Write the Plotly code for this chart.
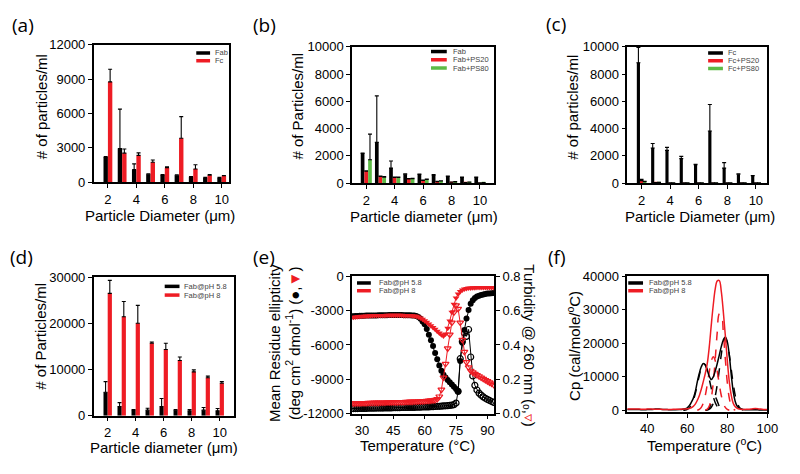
import plotly.graph_objects as go

W, H = 800, 474

# ---------------- data ----------------
diam = [2, 3, 4, 5, 6, 7, 8, 9, 10]
diam_ticks = [2, 4, 6, 8, 10]

# (a) Fab vs Fc
a_fab = [2200, 2950, 1100, 700, 650, 620, 480, 400, 400]
a_fab_err = [50, 3430, 510, 30, 30, 30, 30, 30, 30]
a_fc = [8760, 2540, 2345, 1750, 1270, 3840, 1160, 620, 565]
a_fc_err = [1100, 370, 225, 200, 85, 1890, 370, 60, 30]

# (b) Fab with surfactants
b_fab = [2190, 2990, 1110, 660, 635, 610, 495, 425, 425]
b_fab_err = [30, 3410, 515, 40, 30, 30, 30, 30, 30]
b_ps20 = [890, 495, 425, 305, 210, 120, 70, 45, 25]
b_ps20_err = [30, 40, 30, 30, 30, 20, 10, 10, 10]
b_ps80 = [1720, 445, 425, 330, 280, 165, 100, 70, 45]
b_ps80_err = [1880, 40, 30, 30, 30, 20, 20, 10, 10]

# (c) Fc with surfactants
c_fc = [8820, 2580, 2410, 1800, 1350, 3830, 1110, 660, 545]
c_fc_err = [1130, 330, 215, 165, 45, 1940, 400, 25, 25]
c_ps20 = [190, 40, 30, 25, 20, 20, 20, 20, 20]
c_ps20_err = [90, 10, 10, 10, 10, 10, 10, 10, 10]
c_ps80 = [120, 50, 30, 25, 25, 20, 20, 20, 20]
c_ps80_err = [20, 10, 10, 10, 10, 10, 10, 10, 10]

# (d) Fab at two pH
d_ph58 = [5060, 1970, 1265, 1195, 1970, 1195, 1055, 1195, 1055]
d_ph58_err = [2320, 840, 70, 420, 1760, 140, 280, 560, 490]
d_ph8 = [26490, 21430, 20030, 15670, 14340, 11950, 9490, 8220, 7030]
d_ph8_err = [2810, 3310, 3860, 280, 1330, 770, 420, 350, 350]

# (e) CD ellipticity + turbidity vs temperature (25..93 C)
temp_cd = list(range(25, 94))
ell_ph58 = [-3500, -3490, -3480, -3470, -3460, -3450, -3450, -3440, -3440, -3430,
            -3430, -3420, -3420, -3410, -3410, -3400, -3400, -3400, -3390, -3390,
            -3390, -3380, -3380, -3390, -3390, -3400, -3400, -3410, -3410, -3420,
            -3440,
            -3480, -3560, -3720, -3950, -4200, -4600, -5100, -5600, -6100, -6700,
            -7250, -7800, -8250, -8600, -8850, -9050, -9250, -9450, -9650, -9850,
            -10050, -7400, -5800, -4700, -3700, -2950, -2400, -2100, -1900, -1780,
            -1700, -1640, -1590, -1550, -1520, -1500, -1480, -1470]
ell_ph8 = [-3600, -3580, -3560, -3540, -3520, -3500, -3490, -3480, -3470, -3460,
           -3450, -3440, -3440, -3430, -3430, -3420, -3420, -3410, -3410, -3400,
           -3400, -3400, -3400, -3410, -3410, -3420, -3420, -3430, -3440, -3450,
           -3470,
           -3500, -3560, -3640, -3750, -3880, -4020, -4170, -4320, -4480, -4640,
           -4800, -4960, -5120, -5220, -5050, -4550, -3900, -3150, -2450, -1900,
           -1550, -1330, -1200, -1120, -1070, -1040, -1020, -1010, -1000, -995,
           -990, -990, -985, -985, -980, -980, -980, -980]
turb_ph58 = [0.030, 0.030, 0.030, 0.030, 0.031, 0.031, 0.031, 0.031, 0.032, 0.032,
             0.032, 0.032, 0.033, 0.033, 0.033, 0.033, 0.034, 0.034, 0.034, 0.034,
             0.035, 0.035, 0.035, 0.035, 0.036, 0.036, 0.036, 0.036, 0.037, 0.037,
             0.037,
             0.038, 0.038, 0.038, 0.039, 0.039, 0.040, 0.040, 0.041, 0.041, 0.042,
             0.043, 0.043, 0.044, 0.045, 0.046, 0.047, 0.048, 0.050, 0.053, 0.062,
             0.13, 0.32, 0.42, 0.47, 0.45, 0.49, 0.33, 0.22, 0.165, 0.138,
             0.12, 0.108, 0.098, 0.09, 0.083, 0.077, 0.071, 0.066]
turb_ph8 = [0.060, 0.060, 0.061, 0.061, 0.061, 0.062, 0.062, 0.062, 0.063, 0.063,
            0.063, 0.064, 0.064, 0.064, 0.065, 0.065, 0.065, 0.066, 0.066, 0.066,
            0.067, 0.067, 0.067, 0.068, 0.068, 0.068, 0.069, 0.069, 0.070, 0.070,
            0.071,
            0.071, 0.072, 0.072, 0.073, 0.074, 0.075, 0.076, 0.077, 0.078, 0.080,
            0.085, 0.10, 0.14, 0.21, 0.29, 0.38, 0.46, 0.53, 0.59, 0.63,
            0.61, 0.53, 0.43, 0.36, 0.30, 0.27, 0.25, 0.24, 0.232, 0.225,
            0.218, 0.21, 0.203, 0.196, 0.189, 0.182, 0.175, 0.168]

# (f) DSC thermograms
dsc58_t = [30, 32, 34, 36, 38, 40, 42, 44, 45, 46, 48, 50, 52, 54, 56, 57, 58,
           59, 60, 61, 62, 63, 64, 65, 66, 67, 68, 69, 70, 71, 72, 73, 74, 75,
           76, 77, 78, 79, 80, 81, 82, 83, 84, 85, 86, 87, 88, 90, 92, 94, 96,
           98, 100]
dsc58_cp = [300, 300, 250, 250, 200, 250, 300, 400, 450, 400, 300, 250, 200, 200,
            250, 300, 400, 500, 800, 1400, 2400, 3600, 5600, 8500, 11000, 13000,
            14000, 13500, 12000, 10200, 9200, 10000, 11800, 14000, 16500, 19000,
            21000, 21900, 20500, 16500, 10500, 5500, 2600, 1200, 600, 400, 300,
            200, 200, 200, 150, 100, 100]
dsc8_t = [30, 32, 34, 36, 38, 40, 42, 44, 46, 48, 50, 52, 54, 56, 58, 60, 61, 62,
          63, 64, 65, 66, 67, 68, 69, 70, 71, 72, 73, 74, 75, 76, 77, 78, 79,
          80, 81, 82, 83, 84, 85, 86, 88, 90, 92, 94, 96, 98, 100]
dsc8_cp = [400, 450, 400, 400, 350, 400, 400, 350, 350, 300, 300, 300, 350, 350,
           400, 500, 600, 800, 1200, 1900, 3000, 4400, 6300, 8600, 11000, 14000,
           19000, 25500, 31500, 36300, 38600, 38700, 35500, 29500, 22500, 15000,
           8600, 4500, 2100, 1100, 600, 400, 300, 350, 450, 600, 450, 300, 250]
# deconvoluted components (dashed)
fit58_p1_t = [58, 59, 60, 61, 62, 63, 64, 65, 66, 67, 68, 69, 70, 71, 72, 73, 74,
              75, 76, 77, 78]
fit58_p1 = [30, 100, 300, 730, 1550, 2940, 5000, 7650, 10400, 12750, 13900, 13600,
            11900, 9300, 6550, 4100, 2300, 1160, 520, 210, 80]
fit58_p2_t = [69, 70, 71, 72, 73, 74, 75, 76, 77, 78, 79]
fit58_p2 = [30, 190, 790, 2100, 3590, 3920, 2750, 1230, 356, 66, 10]
fit58_p3_t = [70, 71, 72, 73, 74, 75, 76, 77, 78, 79, 80, 81, 82, 83, 84, 85, 86,
              87, 88]
fit58_p3 = [120, 370, 940, 2150, 4360, 7740, 12100, 16650, 20200, 21500, 20200,
            16650, 12100, 7740, 4360, 2150, 940, 370, 120]
fit8_p1_t = [65, 66, 67, 68, 69, 70, 71, 72, 73, 74, 75, 76, 77, 78, 79, 80, 81]
fit8_p1 = [80, 320, 900, 2170, 4450, 7790, 11600, 14800, 16000, 14800, 11600, 7790,
           4450, 2170, 900, 320, 80]
fit8_p2_t = [69, 70, 71, 72, 73, 74, 75, 76, 77, 78, 79, 80, 81, 82, 83, 84]
fit8_p2 = [80, 380, 1300, 3640, 8320, 15460, 23390, 28760, 28760, 23390, 15460,
           8320, 3640, 1300, 380, 80]

# tick values
ticks_a = [0, 3000, 6000, 9000, 12000]
ticks_bc = [0, 2000, 4000, 6000, 8000, 10000]
ticks_d = [0, 10000, 20000, 30000]
ticks_e = [-12000, -9000, -6000, -3000, 0]
ticks_e2 = [0.0, 0.2, 0.4, 0.6, 0.8]
ticks_f = [0, 10000, 20000, 30000, 40000]
ticks_tf = [40, 60, 80, 100]
ticks_te = [30, 45, 60, 75, 90]

# texts
panel_labels = ["(a)", "(b)", "(c)", "(d)", "(e)", "(f)"]
xtitles = ["Particle Diameter (μm)", "Particle diameter (μm)",
           "Particle Diameter (μm)", "Particle diameter (μm)",
           "Temperature (°C)", "Temperature (<sup>o</sup>C)"]
ytitles = ["# of particles/ml", "# of Particles/ml", "# of particles/ml",
           "# of Particles/ml",
           "Mean Residue ellipticity<br>(deg cm<sup>2</sup> dmol<sup>-1</sup>) "
           "(●,<span style='color:#ee1c24'>▼</span>)",
           "Cp (cal/mole/<sup>o</sup>C)"]
y2title_e = "Turbidity @ 260 nm (ₒ,<span style='color:#ee1c24'>▿</span>)"

BLACK = "#000000"
RED = "#ee1c24"
GREEN = "#5dbb46"
FONT = "Liberation Sans, Arial, sans-serif"

# panel plot-area boxes in pixels (left, right, top, bottom)
boxes = {
    1: (95, 232, 39, 181),
    2: (357, 501, 41, 182),
    3: (636, 778, 41, 182),
    4: (95, 237, 279, 422),
    5: (357, 501, 278, 420),
    6: (636, 778, 278, 418),
}


def dom(b):
    l, r, t, btm = b
    return [l / W, r / W], [1 - btm / H, 1 - t / H]


def lbl(vals, fmt="{:d}"):
    return [fmt.format(v) for v in vals]


fig = go.Figure()


def add_bars(n, ys, errs, colors, width, offsets):
    ax = "" if n == 1 else str(n)
    for y, e, c, off in zip(ys, errs, colors, offsets):
        fig.add_trace(go.Bar(
            x=diam, y=y, width=width, offset=off,
            marker=dict(color=c, line=dict(width=0)),
            error_y=dict(type="data", array=e, arrayminus=[0] * len(e),
                         symmetric=False, color="black", thickness=1.1, width=2),
            xaxis="x" + ax, yaxis="y" + ax, showlegend=False))


add_bars(1, [a_fab, a_fc], [a_fab_err, a_fc_err], [BLACK, RED], 0.31, [-0.31, 0.0])
add_bars(2, [b_fab, b_ps20, b_ps80], [b_fab_err, b_ps20_err, b_ps80_err],
         [BLACK, RED, GREEN], 0.26, [-0.39, -0.13, 0.13])
add_bars(3, [c_fc, c_ps20, c_ps80], [c_fc_err, c_ps20_err, c_ps80_err],
         [BLACK, RED, GREEN], 0.22, [-0.33, -0.11, 0.11])
add_bars(4, [d_ph58, d_ph8], [d_ph58_err, d_ph8_err], [BLACK, RED], 0.3, [-0.3, 0.0])

# (e)
fig.add_trace(go.Scatter(x=temp_cd, y=turb_ph58, mode="lines+markers",
                         line=dict(color=BLACK, width=1),
                         marker=dict(symbol="circle-open", size=6, color=BLACK,
                                     line=dict(width=1.2)),
                         xaxis="x5", yaxis="y7", showlegend=False))
fig.add_trace(go.Scatter(x=temp_cd, y=turb_ph8, mode="lines+markers",
                         line=dict(color=RED, width=1),
                         marker=dict(symbol="triangle-down-open", size=6, color=RED,
                                     line=dict(width=1.2)),
                         xaxis="x5", yaxis="y7", showlegend=False))
fig.add_trace(go.Scatter(x=temp_cd, y=ell_ph58, mode="lines+markers",
                         line=dict(color=BLACK, width=1),
                         marker=dict(symbol="circle", size=6, color=BLACK),
                         xaxis="x5", yaxis="y5", showlegend=False))
fig.add_trace(go.Scatter(x=temp_cd, y=ell_ph8, mode="lines+markers",
                         line=dict(color=RED, width=1),
                         marker=dict(symbol="triangle-down", size=6, color=RED),
                         xaxis="x5", yaxis="y5", showlegend=False))

# (f)
for tt, yy, c, d in [
    (fit58_p1_t, fit58_p1, BLACK, "dash"), (fit58_p2_t, fit58_p2, BLACK, "dash"),
    (fit58_p3_t, fit58_p3, BLACK, "dash"), (fit8_p1_t, fit8_p1, RED, "dash"),
    (fit8_p2_t, fit8_p2, RED, "dash"),
    (dsc58_t, dsc58_cp, BLACK, "solid"), (dsc8_t, dsc8_cp, RED, "solid")]:
    fig.add_trace(go.Scatter(x=tt, y=yy, mode="lines",
                             line=dict(color=c, width=1.5, dash=d, shape="spline"),
                             xaxis="x6", yaxis="y6", showlegend=False))

# ---------------- axes ----------------
axis_common = dict(showline=True, linecolor="black", linewidth=1.5, mirror=True,
                   ticks="outside", ticklen=4, tickwidth=1.2, tickcolor="black",
                   showgrid=False, zeroline=False,
                   tickfont=dict(family=FONT, size=13, color="black"))
title_font = dict(family=FONT, size=15, color="black")

xranges = {1: [1, 10.5], 2: [1, 11], 3: [1, 10.8], 4: [1, 11],
           5: [25.3, 93.2], 6: [30, 100]}
yranges = {1: [0, 12000], 2: [0, 10000], 3: [0, 10000], 4: [0, 30000],
           5: [-12000, 0], 6: [-400, 40000]}
ytickvals = {1: ticks_a, 2: ticks_bc, 3: ticks_bc, 4: ticks_d, 5: ticks_e, 6: ticks_f}
xtickvals = {1: diam_ticks, 2: diam_ticks, 3: diam_ticks, 4: diam_ticks,
             5: ticks_te, 6: ticks_tf}

lay = {}
for n in range(1, 7):
    xd, yd = dom(boxes[n])
    ax = "" if n == 1 else str(n)
    lay["xaxis" + ax] = dict(axis_common, domain=xd, anchor="y" + ax,
                             range=xranges[n], tickvals=xtickvals[n],
                             ticktext=lbl(xtickvals[n]))
    lay["yaxis" + ax] = dict(axis_common, domain=yd, anchor="x" + ax,
                             range=yranges[n], tickvals=ytickvals[n],
                             ticktext=lbl(ytickvals[n]))
lay["yaxis5"]["mirror"] = False
xd5, yd5 = dom(boxes[5])
lay["yaxis7"] = dict(axis_common, domain=yd5, anchor="x5", overlaying="y5",
                     side="right", range=[0, 0.8], tickvals=ticks_e2,
                     ticktext=lbl(ticks_e2, "{:.1f}"), mirror=False)

# ---------------- annotations & legend swatches ----------------
annotations = []
shapes = []


def ann(text, px, py, font, angle=0, xanchor="center"):
    annotations.append(dict(text=text, x=px / W, y=1 - py / H, xref="paper",
                            yref="paper", showarrow=False, xanchor=xanchor,
                            yanchor="middle", textangle=angle, font=font))


label_pos = [(23, 19), (268, 19), (564, 18), (22, 258), (268, 258), (565, 258)]
for lab, (px, py) in zip(panel_labels, label_pos):
    ann(lab, px, py, dict(family="Open Sans, sans-serif", size=19, color="black"))

xtitle_pos = [(162, 215), (430, 216), (710, 216), (166, 455), (423, 453),
              (714, 452)]
ytitle_pos = [(42, 103), (302, 102), (581, 104), (41, 340), (288, 347),
              (582, 350)]
for t, (px, py) in zip(xtitles, xtitle_pos):
    ann(t, px, py, title_font)
for t, (px, py) in zip(ytitles, ytitle_pos):
    ann(t, px, py, title_font, angle=-90)
ann(y2title_e, 536, 350, title_font, angle=90)

legend_sets = [
    # (x_start, x_end, text_x, [y's], names, colours)
    (199, 213, 216, [47.5, 55.5], ["Fab", "Fc"], [BLACK, RED]),
    (437, 453, 457, [46, 54.5, 63], ["Fab", "Fab+PS20", "Fab+PS80"],
     [BLACK, RED, GREEN]),
    (718, 733, 736, [47.5, 55.5, 63.5], ["Fc", "Fc+PS20", "Fc+PS80"],
     [BLACK, RED, GREEN]),
    (167, 182, 185, [288.5, 297.5], ["Fab@pH 5.8", "Fab@pH 8"], [BLACK, RED]),
    (362, 376, 382, [285, 293], ["Fab@pH 5.8", "Fab@pH 8"], [BLACK, RED]),
    (637, 652, 656, [285, 293], ["Fab@pH 5.8", "Fab@pH 8"], [BLACK, RED]),
]
for x0, x1, tx, ys, names, cols in legend_sets:
    for yy, nm, cc in zip(ys, names, cols):
        shapes.append(dict(type="line", xref="paper", yref="paper",
                           x0=x0 / W, x1=x1 / W, y0=1 - yy / H, y1=1 - yy / H,
                           line=dict(color=cc, width=3.5)))
        ann(nm, tx, yy, dict(family=FONT, size=7.5, color="#444444"),
            xanchor="left")

fig.update_layout(
    width=W, height=H, margin=dict(l=0, r=0, t=0, b=0),
    paper_bgcolor="white", plot_bgcolor="white", barmode="overlay",
    showlegend=False, annotations=annotations, shapes=shapes,
    font=dict(family=FONT, color="black"), **lay)

fig.write_html("out.html", config={"displayModeBar": False},
               post_script="document.body.style.margin='0';"
                           "document.body.style.padding='0';")
